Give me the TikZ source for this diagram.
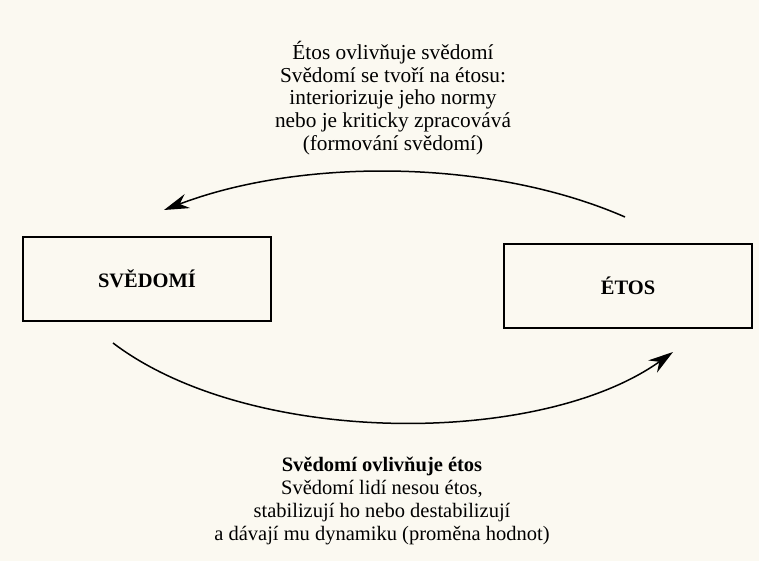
\documentclass[tikz,border=0pt]{standalone}
\usepackage{fontspec}
\setmainfont{Liberation Serif}
\usepackage{xcolor}
\usetikzlibrary{arrows.meta}
\definecolor{papir}{RGB}{251,249,241}

\tikzset{
  pojem/.style={draw, line width=1.7pt, minimum width=248pt, minimum height=84pt, inner sep=0pt,
    font=\fontsize{20.5}{23}\selectfont\bfseries},
  popis/.style={align=center, font=\fontsize{20.5}{23}\selectfont},
  vliv/.style={line width=1.5pt, -{Stealth[length=25pt,width=15pt]}}
}

\begin{document}
\begin{tikzpicture}[x=1pt,y=-1pt]
		\fill[papir] (0,0) rectangle (759,561);
		\useasboundingbox (0,0) rectangle (759,561);
		\node[pojem] (svedomi) at (147,279) {SVĚDOMÍ};
		\node[pojem] (etos) at (628,286) {ÉTOS};
		\node[popis, font=\fontsize{21.3}{22.6}\selectfont] (horni) at (393,98) {Étos ovlivňuje svědomí\\
			Svědomí se tvoří na étosu:\\
			interiorizuje jeho normy\\
			nebo je kriticky zpracovává\\
			(formování svědomí)};
		\node[popis] (dolni) at (382,501) {\textbf{Svědomí ovlivňuje étos}\\
			Svědomí lidí nesou étos,\\
			stabilizují ho nebo destabilizují\\
			a dávají mu dynamiku (proměna hodnot)};
		% konce obou oblouku
		\coordinate (etos-ven) at (625,217);
		\coordinate (svedomi-dovnitr) at (164,210);
		\coordinate (svedomi-ven) at (113,343);
		\coordinate (etos-dovnitr) at (673,352);
		\draw[vliv] (etos-ven) .. controls (490,158) and (300,158) .. (svedomi-dovnitr);
		\draw[vliv] (svedomi-ven) .. controls (250,447) and (540,447) .. (etos-dovnitr);
\end{tikzpicture}
\end{document}
